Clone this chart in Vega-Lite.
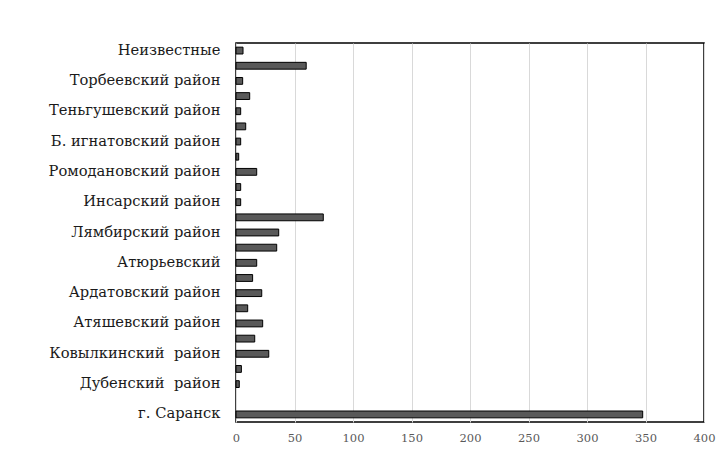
{
  "$schema": "https://vega.github.io/schema/vega-lite/v6.json",
  "autosize": "none",
  "width": 468,
  "height": 379,
  "padding": {"left": 236, "top": 43, "right": 19, "bottom": 28},
  "background": "white",
  "config": {
    "view": {"stroke": "black", "strokeWidth": 1.5}
  },
  "data": {
    "values": [
      {"name": "Неизвестные", "value": 6},
      {"name": "Чамзинский район", "value": 60},
      {"name": "Торбеевский район\u00a0", "value": 5.7},
      {"name": "Темниковский район", "value": 11.7},
      {"name": "Теньгушевский район", "value": 4},
      {"name": "Старошайговский район", "value": 8.3},
      {"name": "Б. игнатовский район", "value": 4},
      {"name": "Б. березниковский район", "value": 2.3},
      {"name": "Ромодановский район\u00a0", "value": 17.7},
      {"name": "Кадошкинский район", "value": 4},
      {"name": "Инсарский район\u00a0", "value": 4},
      {"name": "Рузаевский район", "value": 74.6},
      {"name": "Лямбирский район\u00a0", "value": 36.5},
      {"name": "Ичалковский район", "value": 34.8},
      {"name": "Атюрьевский", "value": 17.7},
      {"name": "Ельниковский район", "value": 14.2},
      {"name": "Ардатовский район\u00a0", "value": 22},
      {"name": "Кочкуровский район", "value": 10},
      {"name": "Атяшевский район\u00a0", "value": 22.8},
      {"name": "Краснослободский район", "value": 16},
      {"name": "Ковылкинский\u00a0\u00a0район\u00a0", "value": 28},
      {"name": "Зубово-Полянский район", "value": 4.6},
      {"name": "Дубенский\u00a0\u00a0район\u00a0", "value": 2.8},
      {"name": "Другие", "value": 0},
      {"name": "г. Саранск\u00a0", "value": 347.6}
    ]
  },
  "mark": {"type": "bar", "fill": "#595959", "stroke": "black", "strokeWidth": 1},
  "encoding": {
    "y": {
      "field": "name",
      "type": "nominal",
      "sort": null,
      "scale": {"paddingInner": 0.55, "paddingOuter": 0.275},
      "axis": {
        "title": null,
        "ticks": false,
        "domain": false,
        "labelFont": "DejaVu Serif",
        "labelFontSize": 14.7,
        "labelColor": "#1a1a1a",
        "labelPadding": 16,
        "labelLimit": 300,
        "labelExpr": "indexof(['Неизвестные','Торбеевский район\u00a0','Теньгушевский район','Б. игнатовский район','Ромодановский район\u00a0','Инсарский район\u00a0','Лямбирский район\u00a0','Атюрьевский','Ардатовский район\u00a0','Атяшевский район\u00a0','Ковылкинский\u00a0\u00a0район\u00a0','Дубенский\u00a0\u00a0район\u00a0','г. Саранск\u00a0'], datum.value) >= 0 ? datum.label : ''"
      }
    },
    "x": {
      "field": "value",
      "type": "quantitative",
      "scale": {"domain": [0, 400], "nice": false},
      "axis": {
        "title": null,
        "values": [0, 50, 100, 150, 200, 250, 300, 350, 400],
        "ticks": false,
        "domain": false,
        "grid": true,
        "gridColor": "#d9d9d9",
        "gridWidth": 1,
        "labelFont": "DejaVu Serif",
        "labelFontSize": 11.5,
        "labelColor": "#595959",
        "labelPadding": 10,
        "labelFlush": false
      }
    },
    "strokeOpacity": {
      "condition": {"test": "datum.value == 0", "value": 0},
      "value": 1
    }
  }
}
